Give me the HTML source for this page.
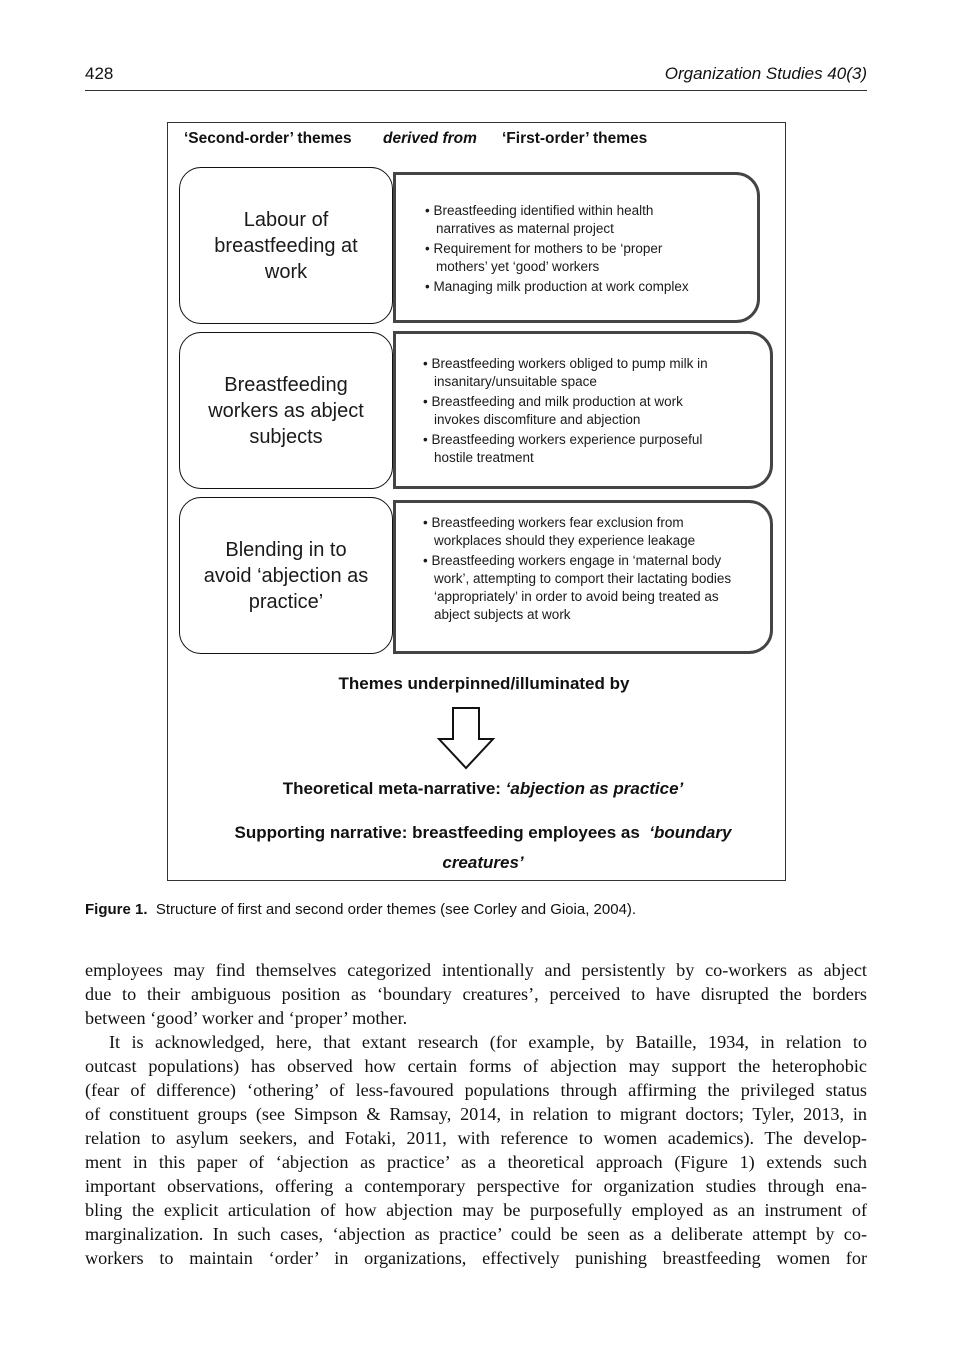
<!DOCTYPE html>
<html><head><meta charset="utf-8"><style>
body{margin:0;width:964px;height:1372px;background:#fff;position:relative;font-family:"Liberation Sans","DejaVu Sans",sans-serif;color:#111;overflow:hidden}
.a{position:absolute}
.l{position:absolute;border:1.5px solid #111;border-radius:22px;background:#fff;display:flex;align-items:center;justify-content:center;text-align:center;font-size:20px;line-height:26px;color:#1a1a1a;box-sizing:border-box}
.r{position:absolute;border:3px solid #444;border-radius:0 24px 24px 0;background:#fff;box-sizing:border-box;font-size:13.5px;line-height:18px;color:#1a1a1a}
.r ul{margin:0;padding:0;list-style:none}
.r li{padding-left:12px;text-indent:-11px;margin-bottom:2px}
.b{position:absolute;left:85px;width:782px;font-family:"Liberation Serif",serif;font-size:18.2px;line-height:24px;text-align:justify;text-align-last:justify;white-space:nowrap;color:#111}
.b.e{text-align-last:left}
.c{position:absolute;left:167px;width:618px;text-align:center;font-weight:bold;font-size:17px}
</style></head><body>
<div class="a" style="left:85px;top:64px;font-size:17px">428</div>
<div class="a" style="right:97px;top:64px;font-size:17px;font-style:italic">Organization Studies 40(3)</div>
<div class="a" style="left:85px;top:90px;width:782px;height:1px;background:#333"></div>

<div class="a" style="left:167px;top:122px;width:617px;height:757px;border:1px solid #333"></div>
<div class="a" style="left:184px;top:130px;font-size:15.5px;font-weight:bold">‘Second-order’ themes</div>
<div class="a" style="left:383px;top:130px;font-size:15.5px;font-weight:bold;font-style:italic">derived from</div>
<div class="a" style="left:502px;top:130px;font-size:15.5px;font-weight:bold">‘First-order’ themes</div>

<div class="l" style="left:179px;top:167px;width:214px;height:157px">Labour of<br>breastfeeding at<br>work</div>
<div class="r" style="left:393px;top:172px;width:367px;height:151px;padding:27px 0 0 28px"><ul style="width:275px">
<li>• Breastfeeding identified within health narratives as maternal project</li>
<li>• Requirement for mothers to be ‘proper mothers’ yet ‘good’ workers</li>
<li>• Managing milk production at work complex</li></ul></div>

<div class="l" style="left:179px;top:332px;width:214px;height:157px">Breastfeeding<br>workers as abject<br>subjects</div>
<div class="r" style="left:393px;top:331px;width:380px;height:158px;padding:21px 0 0 26px"><ul style="width:305px">
<li>• Breastfeeding workers obliged to pump milk in insanitary/unsuitable space</li>
<li>• Breastfeeding and milk production at work invokes discomfiture and abjection</li>
<li>• Breastfeeding workers experience purposeful hostile treatment</li></ul></div>

<div class="l" style="left:179px;top:497px;width:214px;height:157px">Blending in to<br>avoid ‘abjection as<br>practice’</div>
<div class="r" style="left:393px;top:500px;width:380px;height:154px;padding:11px 0 0 26px"><ul style="width:310px">
<li>• Breastfeeding workers fear exclusion from workplaces should they experience leakage</li>
<li>• Breastfeeding workers engage in ‘maternal body work’, attempting to comport their lactating bodies ‘appropriately’ in order to avoid being treated as abject subjects at work</li></ul></div>

<div class="c" style="top:674px;left:175px">Themes underpinned/illuminated by</div>
<svg class="a" style="left:436px;top:706px" width="60" height="66"><polygon points="17,2 43,2 43,33 57,33 30,62 3,33 17,33" fill="#fff" stroke="#111" stroke-width="2"/></svg>
<div class="c" style="top:779px;left:174px">Theoretical meta-narrative: <i>‘abjection as practice’</i></div>
<div class="c" style="top:823px;left:174px">Supporting narrative: breastfeeding employees as &nbsp;<i>‘boundary</i></div>
<div class="c" style="top:853px;left:174px"><i>creatures’</i></div>

<div class="a" style="left:85px;top:901px;font-size:15px"><b>Figure 1.</b>&nbsp; Structure of first and second order themes (see Corley and Gioia, 2004).</div>

<div class="b" style="top:958px">employees may find themselves categorized intentionally and persistently by co-workers as abject</div>
<div class="b" style="top:982px">due to their ambiguous position as ‘boundary creatures’, perceived to have disrupted the borders</div>
<div class="b e" style="top:1006px">between ‘good’ worker and ‘proper’ mother.</div>
<div class="b" style="top:1030px;padding-left:24px;width:758px">It is acknowledged, here, that extant research (for example, by Bataille, 1934, in relation to</div>
<div class="b" style="top:1054px">outcast populations) has observed how certain forms of abjection may support the heterophobic</div>
<div class="b" style="top:1078px">(fear of difference) ‘othering’ of less-favoured populations through affirming the privileged status</div>
<div class="b" style="top:1102px">of constituent groups (see Simpson &amp; Ramsay, 2014, in relation to migrant doctors; Tyler, 2013, in</div>
<div class="b" style="top:1126px">relation to asylum seekers, and Fotaki, 2011, with reference to women academics). The develop-</div>
<div class="b" style="top:1150px">ment in this paper of ‘abjection as practice’ as a theoretical approach (Figure 1) extends such</div>
<div class="b" style="top:1174px">important observations, offering a contemporary perspective for organization studies through ena-</div>
<div class="b" style="top:1198px">bling the explicit articulation of how abjection may be purposefully employed as an instrument of</div>
<div class="b" style="top:1222px">marginalization. In such cases, ‘abjection as practice’ could be seen as a deliberate attempt by co-</div>
<div class="b" style="top:1246px">workers to maintain ‘order’ in organizations, effectively punishing breastfeeding women for</div>
</body></html>
